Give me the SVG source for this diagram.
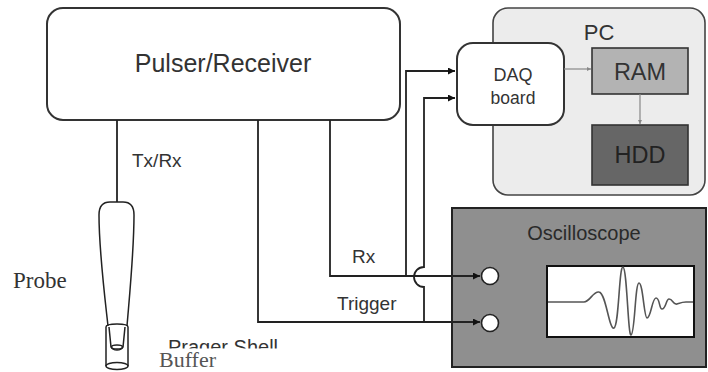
<svg xmlns="http://www.w3.org/2000/svg" width="708" height="372" viewBox="0 0 708 372">
  <defs>
    <style>
      .sans { font-family: "Liberation Sans", Arial, sans-serif; fill: #333; }
      .serif { font-family: "Liberation Serif", "Times New Roman", serif; fill: #444; }
      .wire { fill: none; stroke: #222; stroke-width: 1.8; }
      .thin { fill: none; stroke: #888; stroke-width: 1.2; }
      .box { stroke: #333; stroke-width: 2; }
    </style>
    <marker id="arrow" viewBox="0 0 10 10" refX="10" refY="5" markerWidth="9" markerHeight="7" markerUnits="userSpaceOnUse" orient="auto">
      <path d="M0,0 L10,5 L0,10 z" fill="#111"/>
    </marker>
    <marker id="arrowGray" viewBox="0 0 10 10" refX="10" refY="5" markerWidth="5" markerHeight="4" markerUnits="userSpaceOnUse" orient="auto">
      <path d="M0,0 L10,5 L0,10 z" fill="#888"/>
    </marker>
  </defs>

  <rect width="708" height="372" fill="#fff"/>

  <!-- Pulser / Receiver unit -->
  <g id="pulser">
    <rect class="box" x="47" y="8" width="353" height="112" rx="16" fill="#fff"/>
    <text class="sans" x="223" y="72" font-size="25" text-anchor="middle">Pulser/Receiver</text>
  </g>

  <!-- PC with acquisition and storage -->
  <g id="pc">
    <rect x="493" y="8" width="212" height="187" rx="15" fill="#ececec" stroke="#444" stroke-width="1.6"/>
    <text class="sans" x="599" y="40" font-size="22" text-anchor="middle">PC</text>
  </g>
  <g id="daq">
    <rect class="box" x="457" y="43" width="107" height="82" rx="16" fill="#fff"/>
    <text class="sans" x="513" y="81" font-size="18" text-anchor="middle">DAQ</text>
    <text class="sans" x="513" y="104" font-size="17.5" text-anchor="middle">board</text>
  </g>
  <g id="ram">
    <rect x="592" y="48" width="96" height="46" fill="#b3b3b3" stroke="#333" stroke-width="1.6"/>
    <text class="sans" x="640" y="80" font-size="23.5" text-anchor="middle" fill="#2a2a2a">RAM</text>
  </g>
  <g id="hdd">
    <rect x="592" y="125" width="96" height="60" fill="#666" stroke="#333" stroke-width="1.6"/>
    <text class="sans" x="640" y="163" font-size="23.5" text-anchor="middle" style="fill:#222">HDD</text>
  </g>

  <!-- Oscilloscope -->
  <g id="oscilloscope">
    <rect x="452" y="208" width="254" height="159" fill="#8f8f8f" stroke="#222" stroke-width="2"/>
    <text class="sans" x="584" y="240" font-size="20" text-anchor="middle" style="fill:#2a2a2a">Oscilloscope</text>
    <circle cx="490" cy="276" r="8.5" fill="#fff" stroke="#222" stroke-width="1.6"/>
    <circle cx="490" cy="323" r="8.5" fill="#fff" stroke="#222" stroke-width="1.6"/>
    <rect x="547" y="266" width="147" height="71" fill="#fff" stroke="#111" stroke-width="2"/>
    <path d="M548,302 L584,302 C590,302 593,291 599,292 C606,293 609,330 614,328 C619,326 619,266 623,267 C627,268 628,336 631,335 C635,334 635,283 639,283 C643,283 644,318 647,318 C651,318 652,298 656,298 C660,298 659,309 662,309 C666,309 666,299 669,299 C673,299 673,305 677,304 C680,303 682,302 686,302 L693,302" fill="none" stroke="#555" stroke-width="1.6"/>
  </g>

  <!-- Transducer probe inside its buffer -->
  <g id="probe" fill="none" stroke="#222" stroke-width="1.5">
    <path d="M108,326 C104,290 99,250 99,215 C99,206 103,202 110,202 L123,202 C130,202 134,206 134,215 C134,250 130,290 127,326" fill="#fff"/>
    <path d="M106,327 L106,366 M128,327 L128,366"/>
    <path d="M106,327 C106,323 128,323 128,327"/>
    <ellipse cx="117" cy="366" rx="11" ry="3.5"/>
    <path d="M109,327 L111,347 C113,351 121,351 123,347 L125,327"/>
    <ellipse cx="117" cy="347" rx="5.5" ry="2"/>
  </g>

  <!-- Signal wiring -->
  <g id="connectors">
    <path class="wire" d="M117,120 L117,202"/>
    <path class="wire" d="M330,120 L330,276 L480,276" marker-end="url(#arrow)"/>
    <path class="wire" d="M258,120 L258,322 L480,322" marker-end="url(#arrow)"/>
    <path class="wire" d="M406,276 L406,71 L455,71" marker-end="url(#arrow)"/>
    <path class="wire" d="M424,322 L424,287 A10,10 0 0 1 424,267 L424,98 L455,98" marker-end="url(#arrow)"/>
    <path class="thin" d="M564,69 L591,69" marker-end="url(#arrowGray)"/>
    <path class="thin" d="M640,94 L640,124" marker-end="url(#arrowGray)"/>
  </g>

  <!-- Labels -->
  <g id="labels">
    <text class="sans" x="132" y="167" font-size="19">Tx/Rx</text>
    <text class="sans" x="352" y="263" font-size="19">Rx</text>
    <text class="sans" x="337" y="310" font-size="19">Trigger</text>
    <text class="serif" x="13" y="288" font-size="23" style="fill:#333">Probe</text>
    <text class="sans" x="168" y="354" font-size="20">Prager Shell</text>
    <rect x="150" y="348.5" width="150" height="24" fill="#fff"/>
    <text class="serif" x="159" y="367" font-size="22" style="fill:#555">Buffer</text>
  </g>
</svg>
